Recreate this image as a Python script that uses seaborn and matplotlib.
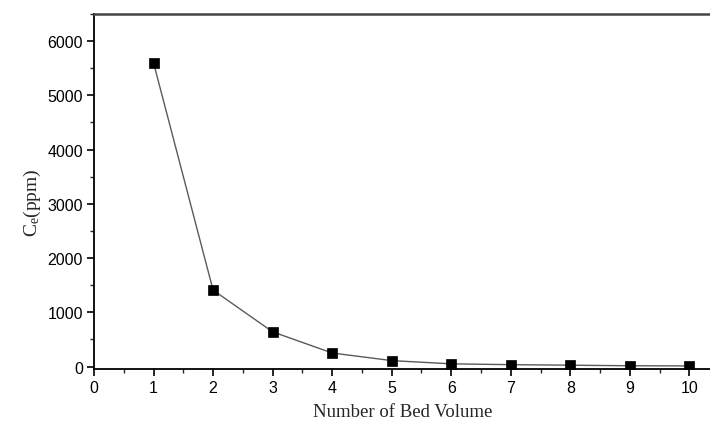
import matplotlib
matplotlib.use("Agg")
import matplotlib.pyplot as plt
import seaborn as sns
import pandas as pd
from matplotlib.ticker import MultipleLocator

bed_volume = [1, 2, 3, 4, 5, 6, 7, 8, 9, 10]
ce_ppm = [5600, 1410, 640, 250, 110, 50, 35, 25, 15, 12]

df = pd.DataFrame({"bv": bed_volume, "ce": ce_ppm})

sns.set_theme(style="ticks")
plt.rcParams["font.family"] = ["Liberation Sans", "DejaVu Sans"]
plt.rcParams["mathtext.default"] = "regular"

fig = plt.figure(figsize=(7.10, 4.27), dpi=100)
ax = fig.add_axes([94 / 710, 1 - 370 / 427, 1 - 94 / 710 + 0.002, (370 - 15) / 427])

sns.lineplot(data=df, x="bv", y="ce", ax=ax, color="#5a5a5a", linewidth=1.0,
             marker="s", markersize=7, markerfacecolor="black",
             markeredgecolor="black", markeredgewidth=0.5)

ax.set_xlim(0, 10.37)
ax.set_ylim(-45, 6500)
ax.xaxis.set_major_locator(MultipleLocator(1))
ax.xaxis.set_minor_locator(MultipleLocator(0.5))
ax.yaxis.set_major_locator(MultipleLocator(1000))
ax.yaxis.set_minor_locator(MultipleLocator(500))
ax.tick_params(axis="both", which="major", direction="out", length=5, width=1.2,
               labelsize=11.5, colors="black", pad=3)
ax.tick_params(axis="both", which="minor", direction="out", length=3, width=1.0)
ax.tick_params(axis="x", top=False, which="both")
ax.tick_params(axis="y", right=False, which="both")

for s in ["left", "bottom"]:
    ax.spines[s].set_linewidth(1.3)
    ax.spines[s].set_color("black")
ax.spines["top"].set_visible(True)
ax.spines["top"].set_linewidth(1.8)
ax.spines["top"].set_color("#444444")
ax.spines["right"].set_visible(False)

ax.set_xlabel("Number of Bed Volume", family=["Liberation Serif", "DejaVu Serif"],
              fontsize=13.5, labelpad=6)
ax.set_ylabel("C$_e$(ppm)", family=["Liberation Serif", "DejaVu Serif"],
              fontsize=14, labelpad=8)
ax.yaxis.set_label_coords(-0.083, 0.47)

fig.savefig("out.png", dpi=100)
